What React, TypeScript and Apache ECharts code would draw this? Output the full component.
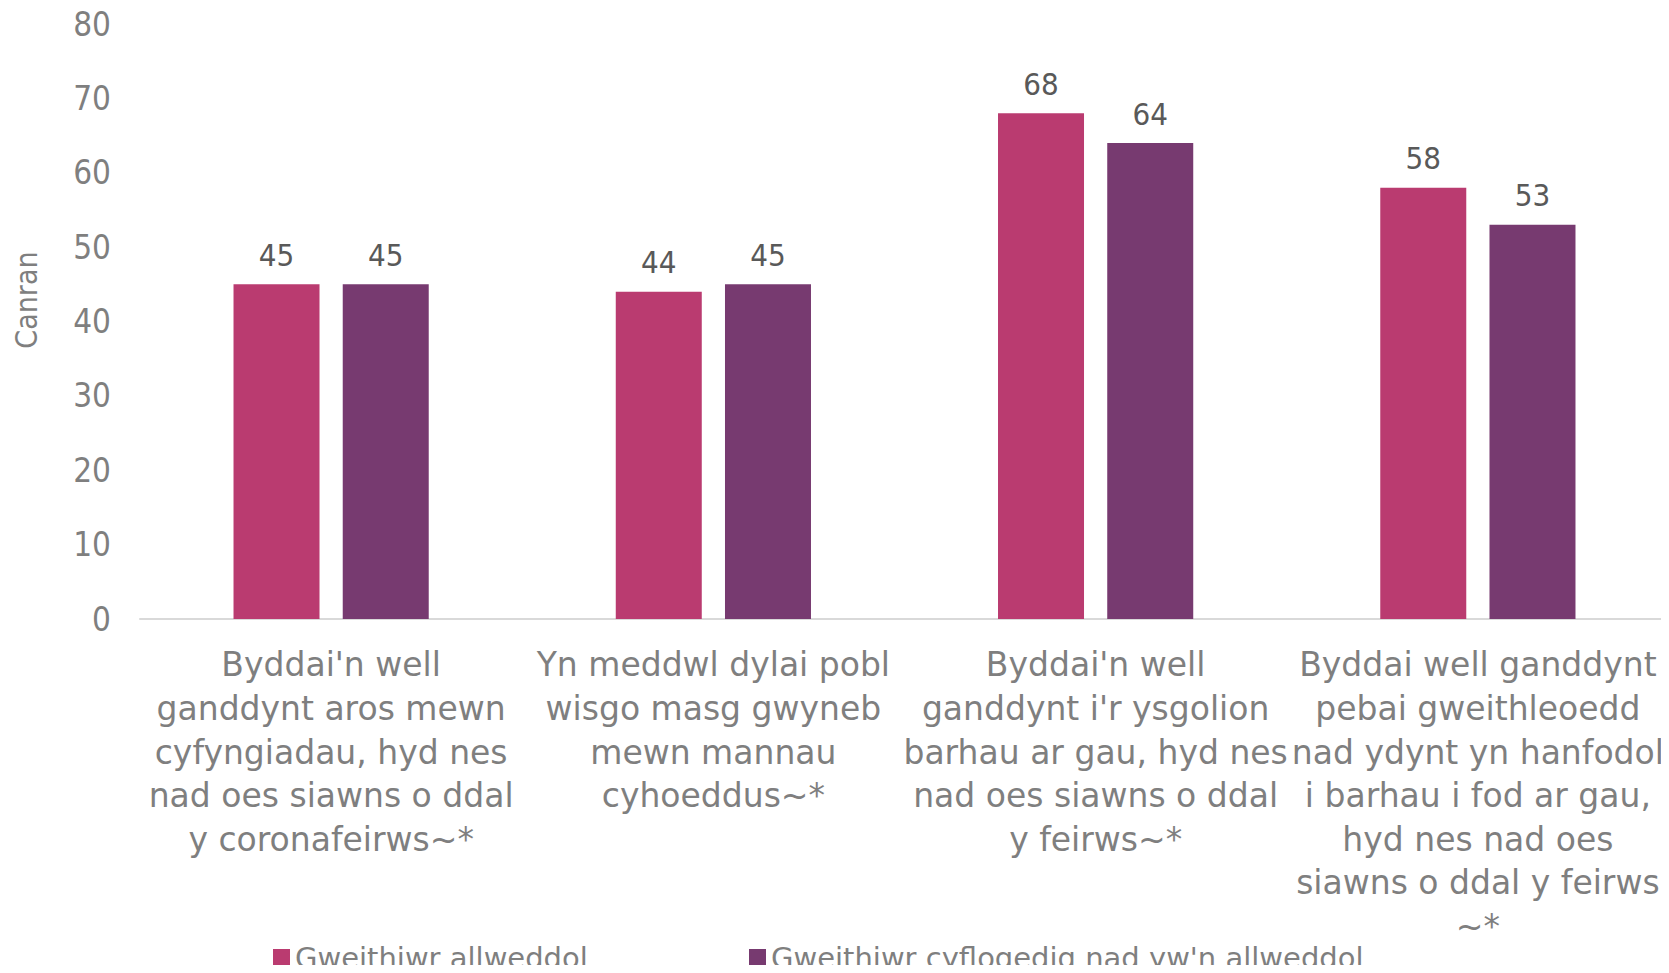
import React, { useEffect, useRef } from "react";
import * as echarts from "echarts";

const categories = [
  "Byddai'n well\nganddynt aros mewn\ncyfyngiadau, hyd nes\nnad oes siawns o ddal\ny coronafeirws~*",
  "Yn meddwl dylai pobl\nwisgo masg gwyneb\nmewn mannau\ncyhoeddus~*",
  "Byddai'n well\nganddynt i'r ysgolion\nbarhau ar gau, hyd nes\nnad oes siawns o ddal\ny feirws~*",
  "Byddai well ganddynt\npebai gweithleoedd\nnad ydynt yn hanfodol\ni barhau i fod ar gau,\nhyd nes nad oes\nsiawns o ddal y feirws\n~*",
];
const seriesNames = ["Gweithiwr allweddol", "Gweithiwr cyflogedig nad yw'n allweddol"];
const keyWorkers = [45, 44, 68, 58];
const nonKeyWorkers = [45, 45, 64, 53];
const yTicks = [0, 10, 20, 30, 40, 50, 60, 70, 80];
const yAxisTitle = "Canran";

const FONT = "'DejaVu Sans', sans-serif";
const FONT_C = "'DejaVu Sans Condensed', 'DejaVu Sans', sans-serif";
const GREY = "#7F7F7F";
const COLORS = ["#BA3B70", "#773A70"];

export default function App() {
  const ref = useRef<HTMLDivElement>(null);
  useEffect(() => {
    const chart = echarts.init(ref.current!, null, { renderer: "svg" });
    const legendCommon = {
      top: 943,
      padding: 0,
      icon: "rect",
      itemWidth: 17,
      itemHeight: 17,
      textStyle: { color: GREY, fontSize: 29, lineHeight: 29, fontFamily: FONT },
    };
    const labelCommon = {
      show: true,
      position: "top",
      distance: 14,
      color: "#595959",
      fontSize: 31,
      fontFamily: FONT_C,
    };
    chart.setOption({
      animation: false,
      textStyle: { fontFamily: FONT },
      grid: { left: 140, right: 0, top: 24, bottom: 354, containLabel: false },
      legend: [
        { ...legendCommon, data: [seriesNames[0]], left: 273 },
        { ...legendCommon, data: [seriesNames[1]], left: 749 },
      ],
      graphic: [
        {
          type: "text",
          x: 26,
          y: 300,
          rotation: Math.PI / 2,
          style: {
            text: yAxisTitle,
            fill: GREY,
            fontSize: 30,
            fontFamily: FONT_C,
            align: "center",
            verticalAlign: "middle",
          },
        },
      ],
      xAxis: {
        type: "category",
        data: categories,
        axisLine: { show: true, lineStyle: { color: "#D9D9D9", width: 2 } },
        axisTick: { show: false },
        axisLabel: {
          color: GREY,
          fontSize: 33,
          lineHeight: 43.6,
          margin: 24,
          interval: 0,
          fontFamily: FONT,
        },
      },
      yAxis: {
        type: "value",
        min: yTicks[0],
        max: yTicks[yTicks.length - 1],
        interval: 10,
        axisLine: { show: false },
        axisTick: { show: false },
        splitLine: { show: false },
        axisLabel: { color: GREY, fontSize: 33, margin: 29, fontFamily: FONT_C },
      },
      series: [
        {
          name: seriesNames[0],
          type: "bar",
          data: keyWorkers,
          barWidth: 86,
          barGap: "27%",
          itemStyle: { color: COLORS[0] },
          label: labelCommon,
        },
        {
          name: seriesNames[1],
          type: "bar",
          data: nonKeyWorkers,
          barWidth: 86,
          barGap: "27%",
          itemStyle: { color: COLORS[1] },
          label: labelCommon,
        },
      ],
    });
    return () => chart.dispose();
  }, []);
  return <div ref={ref} style={{ width: 1669, height: 973, margin: -8 }} />;
}
